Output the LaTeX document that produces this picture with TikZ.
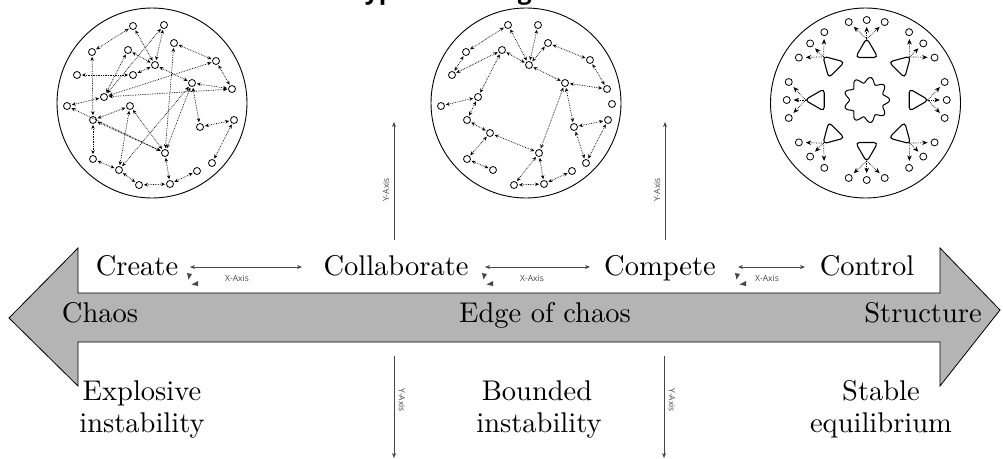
\documentclass[tikz,border=0pt]{standalone}
\usepackage{fontspec}
\usepackage{graphicx}
\newfontfamily\axisfont{Open Sans}
\usetikzlibrary{arrows.meta,calc}
\definecolor{arrowgray}{RGB}{180,180,180}
\definecolor{axisgray}{RGB}{70,70,70}
\newcommand\BigTxt[1]{\scalebox{2.85}{\fontsize{10}{12}\selectfont #1}}
\tikzset{
  lbl/.style={inner sep=0pt, anchor=base},
  dot/.style={circle, draw, line width=0.8pt, minimum size=7pt, inner sep=0pt},
  net/.style={densely dotted, line width=0.7pt, {Stealth[length=4pt,width=3.5pt]}-{Stealth[length=4pt,width=3.5pt]}, shorten <=1pt, shorten >=1pt},
  fan/.style={densely dotted, line width=0.7pt, -{Stealth[length=5.5pt,width=4.5pt]}, shorten >=3pt},
  axarrow/.style={draw=axisgray, line width=0.8pt, -{Stealth[length=5pt,width=4pt]}},
  axlbl/.style={inner sep=0pt, text=axisgray, font=\axisfont\fontsize{8.5}{10}\selectfont},
  bigcirc/.style={circle, draw, line width=0.9pt, minimum size=190pt, inner sep=0pt},
  glyph/.style={fill=axisgray, draw=none}
}
\begin{document}
\begin{tikzpicture}[x=1pt,y=-1pt]
\useasboundingbox (0,0) rectangle (1003,458);

% ---------- title (only its descenders fall inside the picture) ----------
\node[inner sep=0pt, anchor=base west, font=\axisfont\bfseries\fontsize{24.5}{28}\selectfont] (title) at (351,-1) {Types of change};

% ---------- big double arrow ----------
\draw[fill=arrowgray, line width=0.8pt] (9,318) -- (78,248) -- (78,293) -- (940,293) -- (940,248)
  -- (1000,310) -- (940,386) -- (940,342) -- (78,342) -- (78,386) -- cycle;

% ---------- labels ----------
\node[lbl] (create) at (137,275) {\BigTxt{Create}};
\node[lbl] (collab) at (396,275) {\BigTxt{Collaborate}};
\node[lbl] (compete) at (660,275) {\BigTxt{Compete}};
\node[lbl] (control) at (867,275) {\BigTxt{Control}};
\node[lbl] (chaos) at (100,322) {\BigTxt{Chaos}};
\node[lbl] (edge) at (545,322) {\BigTxt{Edge of chaos}};
\node[lbl] (structure) at (923,322) {\BigTxt{Structure}};
\node[lbl] (expl1) at (142,400) {\BigTxt{Explosive}};
\node[lbl] (expl2) at (142,432) {\BigTxt{instability}};
\node[lbl] (bnd1) at (537,400) {\BigTxt{Bounded}};
\node[lbl] (bnd2) at (539,432) {\BigTxt{instability}};
\node[lbl] (stab1) at (881,400) {\BigTxt{Stable}};
\node[lbl] (stab2) at (881,432) {\BigTxt{equilibrium}};

% ---------- X axes ----------
\coordinate (x1l) at (190,267); \coordinate (x1r) at (302,267);
\coordinate (x2l) at (485,267); \coordinate (x2r) at (590,267);
\coordinate (x3l) at (738,267); \coordinate (x3r) at (805,267);
\draw[axarrow, {Stealth[length=5pt,width=4pt]}-{Stealth[length=5pt,width=4pt]}] (x1l) -- (x1r);
\draw[axarrow, {Stealth[length=5pt,width=4pt]}-{Stealth[length=5pt,width=4pt]}] (x2l) -- (x2r);
\draw[axarrow, {Stealth[length=5pt,width=4pt]}-{Stealth[length=5pt,width=4pt]}] (x3l) -- (x3r);
\node[axlbl] (xl1) at (237,278) {X-Axis};
\node[axlbl] (xl2) at (532,278) {X-Axis};
\node[axlbl] (xl3) at (767,278) {X-Axis};
\foreach \gx in {187,482,735}{
  \fill[glyph] (\gx,273) -- (\gx+5,274) -- (\gx+1.5,279.5) -- cycle;
  \fill[glyph] (\gx+11,281) -- (\gx+11,286) -- (\gx+4.5,284.5) -- cycle;
}

% ---------- Y axes ----------
\coordinate (y1b) at (394,240); \coordinate (y1t) at (394,122);
\coordinate (y2b) at (665,240); \coordinate (y2t) at (665,122);
\draw[axarrow] (y1b) -- (y1t);
\draw[axarrow] (y2b) -- (y2t);
\node[axlbl, rotate=90] (yl1) at (386,190) {Y-Axis};
\node[axlbl, rotate=90] (yl2) at (657,190) {Y-Axis};
\coordinate (y3t) at (394,356); \coordinate (y3b) at (394,458);
\coordinate (y4t) at (664,356); \coordinate (y4b) at (664,458);
\draw[axarrow] (y3t) -- (y3b);
\draw[axarrow] (y4t) -- (y4b);
\node[axlbl, rotate=-90] (yl3) at (402,400) {Y-Axis};
\node[axlbl, rotate=-90] (yl4) at (672,400) {Y-Axis};

% ---------- circle 1 : chaotic network ----------
\node[bigcirc] (c1) at (152,103) {};
\foreach \n/\x/\y in {a1/133/26, a2/164/25, a3/174/43, a4/92/52, a5/128/50, a6/216/61,
  a7/155/65, a8/77/75, a9/133/75, a10/192/83, a11/232/89, a12/104/97, a13/67/106,
  a14/130/106, a15/93/120, a16/234/120, a17/200/127, a18/165/153, a19/93/159,
  a20/212/163, a21/119/170, a22/197/171, a23/139/185, a24/170/184}
  \node[dot] (\n) at (\x,\y) {};
\foreach \s/\t in {a4/a1, a1/a7, a2/a7, a2/a12, a3/a6, a3/a18, a5/a12, a5/a7, a7/a10,
  a9/a8, a4/a15, a6/a12, a6/a11, a10/a11, a12/a11, a12/a13, a14/a15, a14/a18, a14/a21,
  a15/a18, a16/a17, a16/a20, a10/a17, a18/a10, a18/a24, a19/a15, a19/a21, a21/a23,
  a23/a24, a24/a22, a21/a10, a13/a18, a9/a7}
  \draw[net] (\s) -- (\t);

% ---------- circle 2 : bounded network ----------
\node[bigcirc] (c2) at (526,103) {};
\foreach \n/\x/\y in {b1/508/25, b2/538/25, b3/548/43, b4/466/52, b5/502/50, b6/590/60,
  b7/529/65, b8/452/75, b9/565/83, b10/607/89, b11/478/97, b12/441/106, b13/612/104,
  b14/467/120, b15/608/120, b16/490/133, b17/574/127, b18/539/153, b19/467/159,
  b20/586/163, b21/493/170, b22/572/171, b23/514/185, b24/544/184}
  \node[dot] (\n) at (\x,\y) {};
\foreach \s/\t in {b4/b1, b1/b7, b2/b7, b3/b7, b3/b6, b5/b8, b4/b8, b5/b7, b5/b11,
  b7/b9, b9/b10, b6/b10, b11/b12, b11/b14, b14/b16, b16/b18, b16/b19, b19/b21,
  b9/b18, b9/b17, b17/b15, b15/b20, b17/b20, b18/b24, b18/b23, b23/b24, b24/b22}
  \draw[net] (\s) -- (\t);

% ---------- circle 3 : stable structure ----------
\node[bigcirc] (c3) at (865.5,103) {};
\coordinate (cent) at (866.7,100);
\draw[line width=1pt] plot[domain=0:360, samples=181, smooth]
  ({866.7+(20+2.8*cos(9*\x))*cos(\x)}, {100+(20+2.8*cos(9*\x))*sin(\x)}) -- cycle;
\foreach \a [count=\i] in {0,45,...,315}{
  \draw[line width=1.1pt, rounded corners=4pt]
    ($(cent)+(\a:49)+(\a:13)$) -- ($(cent)+(\a:49)+(\a+120:13)$) -- ($(cent)+(\a:49)+(\a+240:13)$) -- cycle;
  \coordinate (ap\i) at ($(cent)+(\a:61)$);
  \foreach \d [count=\j] in {-13,0,13}{
    \node[dot] (d\i\j) at ($(cent)+(\a+\d:80)$) {};
    \draw[fan] (ap\i) -- (d\i\j);
  }
}
\end{tikzpicture}
\end{document}
